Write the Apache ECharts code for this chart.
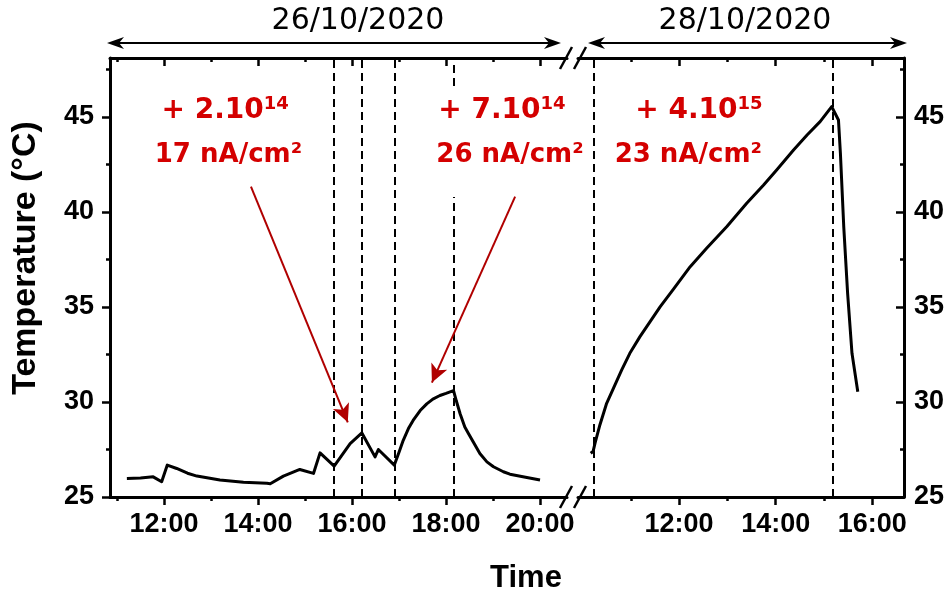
<!DOCTYPE html>
<html lang="en">
  <head>
    <meta charset="UTF-8" />
    <title>Temperature</title>
    <script src="https://cdn.jsdelivr.net/npm/echarts@6.0.0/dist/echarts.min.js"></script>
    <style>
      body { margin: 0; background: #fff; }
    </style>
  </head>
  <body>
    <div id="main" style="width: 952px; height: 595px;"></div>
    <script type="text/javascript">
      // 26/10/2020 : time in hours, temperature in °C
      var day1Hours = [11.21, 11.5, 11.77, 11.95, 12.07, 12.27, 12.5, 12.7, 13.19, 13.69, 14.19, 14.26, 14.54, 14.89, 15.18, 15.32, 15.62,
        15.96, 16.21, 16.49, 16.56, 16.9, 17.0, 17.09, 17.2, 17.3, 17.45, 17.59, 17.72, 17.87, 18.0, 18.16, 18.22, 18.3, 18.4, 18.48,
        18.62, 18.72, 18.87, 19.01, 19.22, 19.36, 19.72, 20.0];
      var day1Temp = [25.98, 26.0, 26.06, 25.8, 26.68, 26.5, 26.25, 26.1, 25.89, 25.77, 25.72, 25.7, 26.1, 26.45, 26.24, 27.32, 26.62,
        27.81, 28.37, 27.11, 27.5, 26.68, 27.35, 27.98, 28.6, 29.03, 29.55, 29.9, 30.15, 30.34, 30.45, 30.6, 30.05, 29.38, 28.68, 28.33,
        27.72, 27.29, 26.85, 26.59, 26.33, 26.2, 26.03, 25.89];
      // 28/10/2020
      var day2Hours = [10.17, 10.22, 10.26, 10.36, 10.5, 10.64, 10.81, 10.98, 11.19, 11.4, 11.61, 11.88, 12.23, 12.57, 12.99, 13.4,
        13.75, 14.02, 14.37, 14.65, 14.92, 15.16, 15.3, 15.34, 15.41, 15.49, 15.58, 15.7];
      var day2Temp = [27.3, 27.4, 27.83, 28.79, 29.93, 30.72, 31.68, 32.56, 33.44, 34.23, 35.02, 35.93, 37.12, 38.09, 39.23, 40.46,
        41.42, 42.21, 43.26, 44.05, 44.75, 45.54, 44.84, 43.1, 39.2, 35.7, 32.56, 30.54];

      var day1Ticks = [12, 14, 16, 18, 20];
      var day1MinorTicks = [11, 13, 15, 17, 19];
      var day2Ticks = [12, 14, 16];
      var day2MinorTicks = [11, 13, 15];
      var tempTicks = [25, 30, 35, 40, 45];
      var tempMinorTicks = [27.5, 32.5, 37.5, 42.5, 47.5];

      // beam on / off markers
      var day1Marks = [15.62, 16.21, 16.9];
      var day1LastMark = 18.16;
      var day2Marks = [10.24, 15.19];

      // fluence + current annotations
      var doses = ['+ 2.10', '+ 7.10', '+ 4.10'];
      var doseExp = ['14', '14', '15'];
      var currents = ['17 nA/cm²', '26 nA/cm²', '23 nA/cm²'];
      var doseAt = [[13.3, 45.3], [19.19, 45.3], [12.41, 45.3]];
      var currentAt = [[13.37, 43.0], [19.36, 43.0], [12.19, 43.0]];
      var arrowFrom = [[13.85, 41.33], [19.47, 40.81]];
      var arrowTo = [[15.91, 28.93], [17.7, 31.02]];

      var tMin = 25, tMax = 48.1;
      var day1Min = 10.851, day1Max = 20.574;
      var day2Min = 9.907, day2Max = 16.657;

      var G1L = 110, G1R = 567, G2L = 578, G2R = 904, TOP = 58, BOT = 497;
      var black = '#000';
      var red = '#d40000';
      var darkRed = '#b00000';
      var arial = 'Liberation Sans, Arial, sans-serif';
      var verd = 'DejaVu Sans, Verdana, sans-serif';

      function hourAxis(grid, min, max, pos, ticks, len, inside, main, labels) {
        return {
          type: 'value', gridIndex: grid, position: pos, min: min, max: max,
          splitLine: { show: false },
          axisLine: { show: main, onZero: false, lineStyle: { color: black, width: 3 } },
          axisTick: { show: true, inside: inside, length: len, customValues: ticks, lineStyle: { color: black, width: 2.5 } },
          axisLabel: labels ? {
            show: true, margin: 14, customValues: ticks, color: black,
            fontFamily: arial, fontWeight: 'bold', fontSize: 27,
            formatter: function (v) { return v + ':00'; }
          } : { show: false }
        };
      }

      function tempAxis(grid, pos, ticks, len, inside, main, labels, margin) {
        return {
          type: 'value', gridIndex: grid, position: pos, min: tMin, max: tMax,
          splitLine: { show: false },
          axisLine: { show: main, onZero: false, lineStyle: { color: black, width: 3 } },
          axisTick: { show: true, inside: inside, length: len, customValues: ticks, lineStyle: { color: black, width: 2.5 } },
          axisLabel: labels ? {
            show: true, margin: margin, customValues: ticks, color: black,
            fontFamily: arial, fontWeight: 'bold', fontSize: 27
          } : { show: false }
        };
      }

      function pairs(xs, ys) {
        return xs.map(function (x, i) { return [x, ys[i]]; });
      }

      function vline(t, from, to) {
        return [{ coord: [t, from] }, { coord: [t, to] }];
      }

      function arrow(i) {
        return [
          { coord: arrowFrom[i], symbol: 'none', lineStyle: { type: 'solid', color: darkRed, width: 2 } },
          { coord: arrowTo[i], symbol: 'arrow', symbolSize: [13, 18] }
        ];
      }

      function notes(idx) {
        return idx.map(function (i) {
          return [
            {
              coord: doseAt[i],
              label: { formatter: '{m|' + doses[i] + '}{s|' + doseExp[i] + '}' }
            },
            {
              coord: currentAt[i],
              label: { formatter: '{c|' + currents[i] + '}' }
            }
          ];
        }).reduce(function (a, b) { return a.concat(b); }, []);
      }

      var noteLabel = {
        show: true, position: 'inside', color: red,
        rich: {
          m: { fontFamily: verd, fontWeight: 'bold', fontSize: 28, color: red, lineHeight: 32 },
          s: { fontFamily: verd, fontWeight: 'bold', fontSize: 18, color: red, lineHeight: 18, verticalAlign: 'top' },
          c: { fontFamily: verd, fontWeight: 'bold', fontSize: 26, color: red, lineHeight: 30 }
        }
      };

      var dashed = { type: [8, 5], color: black, width: 2 };

      var day1Lines = day1Marks.map(function (t) { return vline(t, tMin, tMax); });
      day1Lines.push(vline(day1LastMark, 46.63, tMax));
      day1Lines.push(vline(day1LastMark, tMin, 40.79));
      day1Lines.push(arrow(0));
      day1Lines.push(arrow(1));

      function doubleArrow(x1, x2, y) {
        var s = { fill: black };
        return [
          { type: 'line', z: 100, shape: { x1: x1 + 8, y1: y, x2: x2 - 8, y2: y }, style: { stroke: black, lineWidth: 2 } },
          { type: 'polygon', z: 100, shape: { points: [[x1, y], [x1 + 17, y - 6], [x1 + 12, y], [x1 + 17, y + 6]] }, style: s },
          { type: 'polygon', z: 100, shape: { points: [[x2, y], [x2 - 17, y - 6], [x2 - 12, y], [x2 - 17, y + 6]] }, style: s }
        ];
      }

      function slash(cx, cy) {
        return { type: 'line', z: 100, shape: { x1: cx - 6, y1: cy + 11, x2: cx + 6, y2: cy - 11 }, style: { stroke: black, lineWidth: 2.5 } };
      }

      var graphics = [
        { type: 'text', z: 100, x: 358, y: 21, style: { text: '26/10/2020', fontFamily: verd, fontSize: 30, fill: black, align: 'center', verticalAlign: 'middle' } },
        { type: 'text', z: 100, x: 745, y: 21, style: { text: '28/10/2020', fontFamily: verd, fontSize: 30, fill: black, align: 'center', verticalAlign: 'middle' } },
        { type: 'text', z: 100, x: 526, y: 578, style: { text: 'Time', fontFamily: arial, fontWeight: 'bold', fontSize: 31, fill: black, align: 'center', verticalAlign: 'middle' } },
        { type: 'text', z: 100, x: 26, y: 258, rotation: Math.PI / 2, style: { text: 'Temperature (°C)', fontFamily: arial, fontWeight: 'bold', fontSize: 34, fill: black, align: 'center', verticalAlign: 'middle' } },
        slash(G1R - 1, BOT), slash(G2L + 2, BOT), slash(G1R - 1, TOP), slash(G2L + 2, TOP)
      ].concat(doubleArrow(107, 561, 43), doubleArrow(588, 907, 43));

      var myChart = echarts.init(document.getElementById('main'));
      var option = {
        animation: false,
        backgroundColor: '#fff',
        grid: [
          { left: G1L, top: TOP, width: G1R - G1L, height: BOT - TOP, containLabel: false, outerBoundsMode: 'none' },
          { left: G2L, top: TOP, width: G2R - G2L, height: BOT - TOP, containLabel: false, outerBoundsMode: 'none' }
        ],
        xAxis: [
          hourAxis(0, day1Min, day1Max, 'bottom', day1Ticks, 8, false, true, true),
          hourAxis(0, day1Min, day1Max, 'bottom', day1MinorTicks, 4, false, false, false),
          hourAxis(0, day1Min, day1Max, 'top', day1Ticks, 8, true, true, false),
          hourAxis(0, day1Min, day1Max, 'top', day1MinorTicks, 4, true, false, false),
          hourAxis(1, day2Min, day2Max, 'bottom', day2Ticks, 8, false, true, true),
          hourAxis(1, day2Min, day2Max, 'bottom', day2MinorTicks, 4, false, false, false),
          hourAxis(1, day2Min, day2Max, 'top', day2Ticks, 8, true, true, false),
          hourAxis(1, day2Min, day2Max, 'top', day2MinorTicks, 4, true, false, false)
        ],
        yAxis: [
          tempAxis(0, 'left', tempTicks, 8, false, true, true, 16),
          tempAxis(0, 'left', tempMinorTicks, 4, false, false, false, 0),
          tempAxis(1, 'right', tempTicks, 8, true, true, true, 10),
          tempAxis(1, 'right', tempMinorTicks, 4, true, false, false, 0)
        ],
        graphic: graphics,
        series: [
          {
            name: '26/10/2020', type: 'line', xAxisIndex: 0, yAxisIndex: 0,
            data: pairs(day1Hours, day1Temp),
            showSymbol: false, smooth: false,
            lineStyle: { color: black, width: 3, join: 'round' },
            markLine: { silent: true, symbol: 'none', label: { show: false }, lineStyle: dashed, data: day1Lines },
            markPoint: { silent: true, symbol: 'rect', symbolSize: 1, itemStyle: { color: 'transparent' }, label: noteLabel, data: notes([0, 1]) }
          },
          {
            name: '28/10/2020', type: 'line', xAxisIndex: 4, yAxisIndex: 2,
            data: pairs(day2Hours, day2Temp),
            showSymbol: false, smooth: false,
            lineStyle: { color: black, width: 3, join: 'round' },
            markLine: { silent: true, symbol: 'none', label: { show: false }, lineStyle: dashed,
              data: day2Marks.map(function (t) { return vline(t, tMin, tMax); }) },
            markPoint: { silent: true, symbol: 'rect', symbolSize: 1, itemStyle: { color: 'transparent' }, label: noteLabel, data: notes([2]) }
          }
        ]
      };
      myChart.setOption(option);
    </script>
  </body>
</html>
